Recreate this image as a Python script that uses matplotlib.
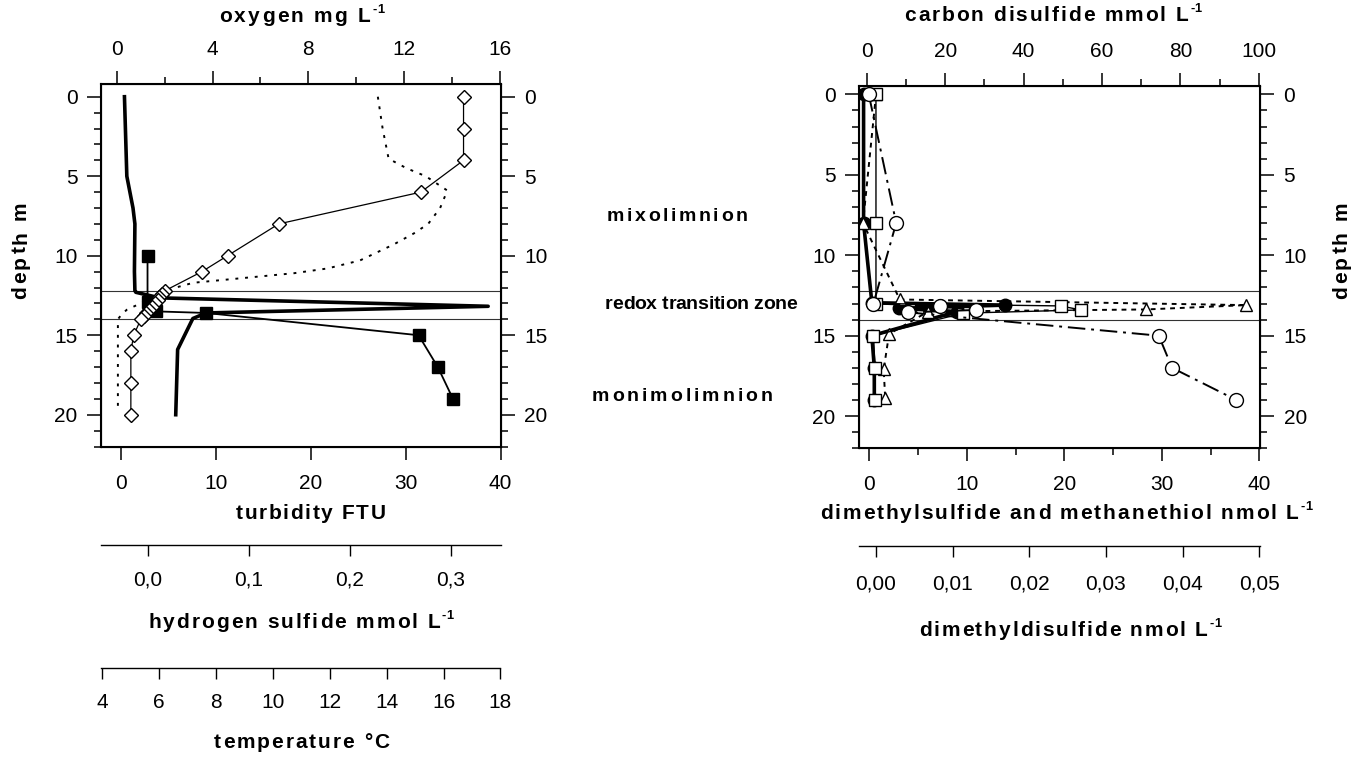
import matplotlib
matplotlib.use("Agg")
import matplotlib.pyplot as plt
from matplotlib.font_manager import FontProperties, findfont, get_font

# ---------------- data ----------------
depth_ticks = [0, 5, 10, 15, 20]
depth_minor = [1, 2, 3, 4, 6, 7, 8, 9, 11, 12, 13, 14, 16, 17, 18, 19, 21, 22]
zone_lines = [12.2, 14.0]

# left panel
temp_depth = [0, 2, 4, 6, 8, 10, 11, 12.2, 12.4, 12.6, 12.8, 13.0, 13.2, 13.4,
              13.6, 13.8, 14.0, 15, 16, 18, 20]
temp_vals = [16.7, 16.7, 16.7, 15.2, 10.2, 8.4, 7.5, 6.2, 6.1, 6.0, 5.95, 5.85,
             5.75, 5.65, 5.55, 5.45, 5.35, 5.1, 5.0, 5.0, 5.0]

oxy_depth = [0, 2, 3.9, 4.5, 5.0, 5.9, 7.0, 8.0, 8.6, 9.3, 10.3, 10.8, 11.1,
             11.3, 11.5, 11.7, 12.05, 13.4, 13.7, 14.0, 19.7]
oxy_vals = [10.9, 11.1, 11.35, 12.1, 12.9, 13.8, 13.5, 13.0, 12.4, 11.55, 10.15,
            8.8, 7.4, 6.0, 4.6, 3.2, 2.35, 0.42, 0.2, 0.05, 0.05]

turb_depth = [0, 5, 7, 8, 11, 12.2, 12.3, 12.65, 13.18, 13.6, 13.95, 15.9, 20]
turb_vals = [0.4, 0.65, 1.3, 1.5, 1.45, 1.5, 1.6, 4.1, 38.7, 9.0, 7.6, 6.0, 5.8]

h2s_depth = [10, 12.9, 13.5, 13.6, 15, 17, 19]
h2s_vals = [0.0, 0.0, 0.008, 0.058, 0.268, 0.287, 0.302]

oxy_ticks = [0, 4, 8, 12, 16]
oxy_minor = [2, 6, 10, 14]
turb_ticks = [0, 10, 20, 30, 40]
h2s_ticks = [0.0, 0.1, 0.2, 0.3]
h2s_labels = ["0,0", "0,1", "0,2", "0,3"]
temp_ticks = [4, 6, 8, 10, 12, 14, 16, 18]

# right panel
cs2_depth = [0, 8, 13.0, 13.15, 13.4, 13.55, 15, 17, 19]
cs2_vals = [0.5, 7.5, 1.7, 18.6, 27.8, 10.6, 74.5, 77.9, 94.3]

dms_depth = [0, 8, 12.95, 13.1, 13.3, 13.5, 15, 17, 19]
dms_vals = [-0.6, -0.6, 0.25, 13.9, 3.0, 9.0, 0.25, 0.5, 0.5]

mesh_depth = [0, 8, 13.0, 13.15, 13.4, 13.6, 15, 17, 19]
mesh_vals = [0.67, 0.67, 0.67, 19.6, 21.7, 9.6, 0.4, 0.57, 0.57]

dmds_depth = [0, 8, 12.75, 13.1, 13.37, 13.5, 14.9, 17.1, 18.9]
dmds_vals = [0.0, -0.0017, 0.0031, 0.0483, 0.0352, 0.0068, 0.0017, 0.0010, 0.0012]

cs2_ticks = [0, 20, 40, 60, 80, 100]
cs2_minor = [10, 30, 50, 70, 90]
dms_ticks = [0, 10, 20, 30, 40]
dms_minor = [5, 15, 25, 35]
dmds_ticks = [0.0, 0.01, 0.02, 0.03, 0.04, 0.05]
dmds_labels = ["0,00", "0,01", "0,02", "0,03", "0,04", "0,05"]

# ---------------- figure ----------------
W, H = 1351, 758
plt.rcParams["font.family"] = ["Liberation Sans", "DejaVu Sans"]
fig = plt.figure(figsize=(W / 100, H / 100), dpi=100)

TICK_FS = 15
FONT = "Liberation Sans"
TITLE_FS = 15


def rect(x0, y0, x1, y1):
    return [x0 / W, 1 - y1 / H, (x1 - x0) / W, (y1 - y0) / H]


def advances(s, size):
    font = get_font(findfont(FontProperties(family=FONT, weight="bold")))
    font.set_size(size, 100)
    out = []
    for c in s:
        g = font.load_char(ord(c))
        out.append(g.linearHoriAdvance / 65536)
    return out


def spaced(x, y, s, width, size=TITLE_FS, sup=None, rot=0):
    """letter-spaced bold text; x,y in image pixels (y = baseline)."""
    adv = advances(s, size)
    ssize = size * 0.62
    sadv = advances(sup, ssize) if sup else []
    natural = sum(adv) + sum(sadv)
    gaps = len(s) - 1 + (1 if sup else 0)
    track = (width - natural) / gaps
    items = []
    p = 0.0
    for c, a in zip(s, adv):
        items.append((p, c, size, 0.0))
        p += a + track
    if sup:
        rise = size * 100 / 72 * 0.45
        for c, a in zip(sup, sadv):
            items.append((p, c, ssize, rise))
            p += a
    start = -width / 2
    for p, c, sz, rise in items:
        if c == " ":
            continue
        if rot == 0:
            fx, fy = x + start + p, y - rise
            fig.text(fx / W, 1 - fy / H, c, fontsize=sz, fontweight="bold",
                     family=FONT, ha="left", va="baseline")
        else:
            fx, fy = x - rise, y - start - p
            fig.text(fx / W, 1 - fy / H, c, fontsize=sz, fontweight="bold",
                     family=FONT, ha="left", va="baseline", rotation=90,
                     rotation_mode="anchor")


def style_depth(ax):
    ax.set_yticks(depth_ticks)
    ax.set_yticks(depth_minor, minor=True)
    ax.tick_params(axis="y", which="both", direction="out", left=True, right=True,
                   labelleft=True, labelright=True, width=1.1, labelsize=TICK_FS,
                   pad=7)
    ax.tick_params(axis="y", which="major", length=10)
    ax.tick_params(axis="y", which="minor", length=5)
    for sp in ax.spines.values():
        sp.set_linewidth(1.5)
    for y in zone_lines:
        ax.axhline(y, color="#333333", lw=0.8, zorder=1)


def style_x(ax, ticks, minor=None, labels=None, pos="bottom"):
    ax.set_xticks(ticks)
    if labels is not None:
        ax.set_xticklabels(labels)
    ax.set_xticks(minor if minor else [], minor=True)
    ax.tick_params(axis="x", which="both", direction="out", width=1.1,
                   labelsize=TICK_FS, pad=10 if pos == "bottom" else 8.5)
    ax.tick_params(axis="x", which="major", length=9.5)
    ax.tick_params(axis="x", which="minor", length=5)
    if pos == "top":
        ax.tick_params(axis="x", which="both", top=True, bottom=False,
                       labeltop=True, labelbottom=False)


def extra_scale(ax, outward, pad):
    ax.xaxis.set_ticks_position("bottom")
    ax.xaxis.set_label_position("bottom")
    for sp in ["top", "left", "right"]:
        ax.spines[sp].set_visible(False)
    ax.spines["bottom"].set_position(("outward", outward))
    ax.spines["bottom"].set_linewidth(1.0)
    ax.tick_params(axis="x", which="major", length=8, width=1.0, pad=pad,
                   labelsize=TICK_FS)


def hidden_twin(ax):
    t = ax.twiny()
    t.xaxis.set_visible(False)
    for sp in t.spines.values():
        sp.set_visible(False)
    return t


# ---------- left panel ----------
axL = fig.add_axes(rect(101, 84, 500.5, 447))
axL.set_zorder(0)
axL.set_xlim(-2.07, 40)
axL.set_ylim(22.03, -0.8)
style_depth(axL)
style_x(axL, turb_ticks)
axL.tick_params(axis="x", top=False)

ax_oxy = axL.twiny()
ax_oxy.set_zorder(1)
ax_oxy.set_xlim(-0.655, 16.02)
style_x(ax_oxy, oxy_ticks, oxy_minor, pos="top")

ax_h2s = axL.twiny()
ax_h2s.set_zorder(2)
ax_h2s.set_xlim(-0.046, 0.349)
ax_h2s.set_xticks(h2s_ticks)
ax_h2s.set_xticklabels(h2s_labels)
extra_scale(ax_h2s, 70.6, 10)

ax_temp = axL.twiny()
ax_temp.set_zorder(3)
ax_temp.set_xlim(3.95, 18.0)
ax_temp.set_xticks(temp_ticks)
extra_scale(ax_temp, 159.1, 10)

axL.plot(turb_vals, turb_depth, color="black", lw=2.6, solid_joinstyle="round",
         zorder=3)
ax_oxy.plot(oxy_vals, oxy_depth, color="black", lw=1.4, ls=(0, (1.5, 3.5)),
            zorder=3)
ax_h2s.plot(h2s_vals, h2s_depth, color="black", lw=1.3, marker="s", ms=8.5,
            mfc="black", mec="black", zorder=4)
ax_temp.plot(temp_vals, temp_depth, color="black", lw=0.9, marker="D", ms=7.3,
             mfc="white", mec="black", mew=1.0, zorder=5)

# ---------- right panel ----------
axR = fig.add_axes(rect(859, 86, 1260, 448.3))
axR.set_zorder(0)
axR.set_xlim(-1.07, 40.06)
axR.set_ylim(22.0, -0.52)
style_depth(axR)
style_x(axR, dms_ticks, dms_minor)
axR.tick_params(axis="x", top=False)

ax_dmds = axR.twiny()
ax_dmds.set_zorder(1)
ax_dmds.set_xlim(-0.00222, 0.0501)
ax_dmds.set_xticks(dmds_ticks)
ax_dmds.set_xticklabels(dmds_labels)
extra_scale(ax_dmds, 70.6, 12)

ax_mesh = hidden_twin(axR)
ax_mesh.set_zorder(2)
ax_mesh.set_xlim(-1.07, 40.06)

ax_cs2 = axR.twiny()
ax_cs2.set_zorder(3)
ax_cs2.set_xlim(-1.99, 100.33)
style_x(ax_cs2, cs2_ticks, cs2_minor, pos="top")

axR.plot(dms_vals, dms_depth, color="black", lw=2.6, marker="o", ms=9,
         mfc="black", mec="black", zorder=3)
ax_dmds.plot(dmds_vals, dmds_depth, color="black", lw=1.4, ls=(0, (2.5, 2.5)),
             marker="^", ms=9, mfc="white", mec="black", mew=1.0, zorder=4)
ax_mesh.plot(mesh_vals, mesh_depth, color="black", lw=1.0, marker="s", ms=8.5,
             mfc="white", mec="black", mew=1.0, zorder=5)
ax_cs2.plot(cs2_vals, cs2_depth, color="black", lw=1.4, ls=(0, (9, 3, 1.5, 3)),
            marker="o", ms=10, mfc="white", mec="black", mew=1.0, zorder=6)

# ---------- titles ----------
spaced(301.5, 22, "oxygen mg L", 165, sup="-1")
spaced(1053, 21, "carbon disulfide mmol L", 297, sup="-1")
spaced(310.7, 519, "turbidity FTU", 150)
spaced(300.8, 628, "hydrogen sulfide mmol L", 305, sup="-1")
spaced(301.5, 748, "temperature °C", 175)
spaced(1066, 519, "dimethylsulfide and methanethiol nmol L", 492, sup="-1")
spaced(1070, 636, "dimethyldisulfide nmol L", 302, sup="-1")
spaced(26, 250, "depth m", 98, rot=90)
spaced(1347, 250, "depth m", 98, rot=90)
spaced(677, 221, "mixolimnion", 141, size=14)
spaced(701, 309, "redox transition zone", 192, size=14)
spaced(682, 401, "monimolimnion", 181, size=14)

fig.savefig("out.png", dpi=100)
